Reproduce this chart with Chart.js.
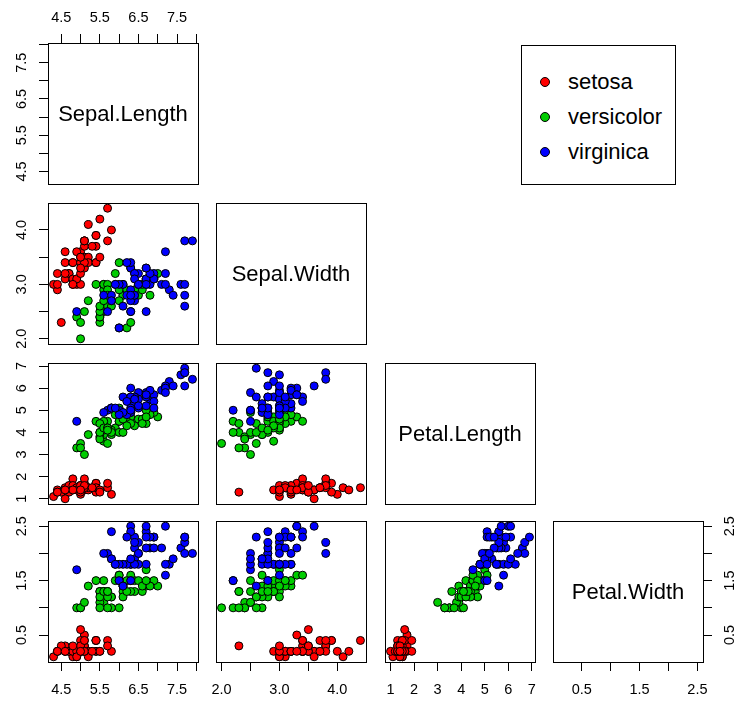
<!DOCTYPE html>
<html>
<head>
<meta charset="utf-8">
<script src="https://cdn.jsdelivr.net/npm/chart.js@4/dist/chart.umd.min.js"></script>
<style>
html,body{margin:0;padding:0;background:#fff;width:740px;height:702px;overflow:hidden;}
#root{position:relative;width:740px;height:702px;overflow:hidden;}
canvas{position:absolute;}
.diag{position:absolute;display:flex;align-items:center;justify-content:center;font-family:"Liberation Sans",Arial,Helvetica,sans-serif;font-size:22px;color:#000;pointer-events:none;}
#legend{position:absolute;border:1px solid #000;box-sizing:border-box;font-family:"Liberation Sans",Arial,Helvetica,sans-serif;font-size:22px;color:#000;background:#fff;}
.litem{position:absolute;white-space:nowrap;line-height:1;}
.ldot{position:absolute;border-radius:50%;border:1px solid #000;box-sizing:border-box;}
</style>
</head>
<body>
<div id="root"></div>
<script>
// ---------------- data (iris) ----------------
const varNames = ['Sepal.Length', 'Sepal.Width', 'Petal.Length', 'Petal.Width'];
const speciesNames = ['setosa', 'versicolor', 'virginica'];

const setosaSepalLength = [5.1,4.9,4.7,4.6,5.0,5.4,4.6,5.0,4.4,4.9,5.4,4.8,4.8,4.3,5.8,5.7,5.4,5.1,5.7,5.1,5.4,5.1,4.6,5.1,4.8,5.0,5.0,5.2,5.2,4.7,4.8,5.4,5.2,5.5,4.9,5.0,5.5,4.9,4.4,5.1,5.0,4.5,4.4,5.0,5.1,4.8,5.1,4.6,5.3,5.0];
const setosaSepalWidth  = [3.5,3.0,3.2,3.1,3.6,3.9,3.4,3.4,2.9,3.1,3.7,3.4,3.0,3.0,4.0,4.4,3.9,3.5,3.8,3.8,3.4,3.7,3.6,3.3,3.4,3.0,3.4,3.5,3.4,3.2,3.1,3.4,4.1,4.2,3.1,3.2,3.5,3.6,3.0,3.4,3.5,2.3,3.2,3.5,3.8,3.0,3.8,3.2,3.7,3.3];
const setosaPetalLength = [1.4,1.4,1.3,1.5,1.4,1.7,1.4,1.5,1.4,1.5,1.5,1.6,1.4,1.1,1.2,1.5,1.3,1.4,1.7,1.5,1.7,1.5,1.0,1.7,1.9,1.6,1.6,1.5,1.4,1.6,1.6,1.5,1.5,1.4,1.5,1.2,1.3,1.4,1.3,1.5,1.3,1.3,1.3,1.6,1.9,1.4,1.6,1.4,1.5,1.4];
const setosaPetalWidth  = [0.2,0.2,0.2,0.2,0.2,0.4,0.3,0.2,0.2,0.1,0.2,0.2,0.1,0.1,0.2,0.4,0.4,0.3,0.3,0.3,0.2,0.4,0.2,0.5,0.2,0.2,0.4,0.2,0.2,0.2,0.2,0.4,0.1,0.2,0.2,0.2,0.2,0.1,0.2,0.2,0.3,0.3,0.2,0.6,0.4,0.3,0.2,0.2,0.2,0.2];

const versicolorSepalLength = [7.0,6.4,6.9,5.5,6.5,5.7,6.3,4.9,6.6,5.2,5.0,5.9,6.0,6.1,5.6,6.7,5.6,5.8,6.2,5.6,5.9,6.1,6.3,6.1,6.4,6.6,6.8,6.7,6.0,5.7,5.5,5.5,5.8,6.0,5.4,6.0,6.7,6.3,5.6,5.5,5.5,6.1,5.8,5.0,5.6,5.7,5.7,6.2,5.1,5.7];
const versicolorSepalWidth  = [3.2,3.2,3.1,2.3,2.8,2.8,3.3,2.4,2.9,2.7,2.0,3.0,2.2,2.9,2.9,3.1,3.0,2.7,2.2,2.5,3.2,2.8,2.5,2.8,2.9,3.0,2.8,3.0,2.9,2.6,2.4,2.4,2.7,2.7,3.0,3.4,3.1,2.3,3.0,2.5,2.6,3.0,2.6,2.3,2.7,3.0,2.9,2.9,2.5,2.8];
const versicolorPetalLength = [4.7,4.5,4.9,4.0,4.6,4.5,4.7,3.3,4.6,3.9,3.5,4.2,4.0,4.7,3.6,4.4,4.5,4.1,4.5,3.9,4.8,4.0,4.9,4.7,4.3,4.4,4.8,5.0,4.5,3.5,3.8,3.7,3.9,5.1,4.5,4.5,4.7,4.4,4.1,4.0,4.4,4.6,4.0,3.3,4.2,4.2,4.2,4.3,3.0,4.1];
const versicolorPetalWidth  = [1.4,1.5,1.5,1.3,1.5,1.3,1.6,1.0,1.3,1.4,1.0,1.5,1.0,1.4,1.3,1.4,1.5,1.0,1.5,1.1,1.8,1.3,1.5,1.2,1.3,1.4,1.4,1.7,1.5,1.0,1.1,1.0,1.2,1.6,1.5,1.6,1.5,1.3,1.3,1.3,1.2,1.4,1.2,1.0,1.3,1.2,1.3,1.3,1.1,1.3];

const virginicaSepalLength = [6.3,5.8,7.1,6.3,6.5,7.6,4.9,7.3,6.7,7.2,6.5,6.4,6.8,5.7,5.8,6.4,6.5,7.7,7.7,6.0,6.9,5.6,7.7,6.3,6.7,7.2,6.2,6.1,6.4,7.2,7.4,7.9,6.4,6.3,6.1,7.7,6.3,6.4,6.0,6.9,6.7,6.9,5.8,6.8,6.7,6.7,6.3,6.5,6.2,5.9];
const virginicaSepalWidth  = [3.3,2.7,3.0,2.9,3.0,3.0,2.5,2.9,2.5,3.6,3.2,2.7,3.0,2.5,2.8,3.2,3.0,3.8,2.6,2.2,3.2,2.8,2.8,2.7,3.3,3.2,2.8,3.0,2.8,3.0,2.8,3.8,2.8,2.8,2.6,3.0,3.4,3.1,3.0,3.1,3.1,3.1,2.7,3.2,3.3,3.0,2.5,3.0,3.4,3.0];
const virginicaPetalLength = [6.0,5.1,5.9,5.6,5.8,6.6,4.5,6.3,5.8,6.1,5.1,5.3,5.5,5.0,5.1,5.3,5.5,6.7,6.9,5.0,5.7,4.9,6.7,4.9,5.7,6.0,4.8,4.9,5.6,5.8,6.1,6.4,5.6,5.1,5.6,6.1,5.6,5.5,4.8,5.4,5.6,5.1,5.1,5.9,5.7,5.2,5.0,5.2,5.4,5.1];
const virginicaPetalWidth  = [2.5,1.9,2.1,1.8,2.2,2.1,1.7,1.8,1.8,2.5,2.0,1.9,2.1,2.0,2.4,2.3,1.8,2.2,2.3,1.5,2.3,2.0,2.0,1.8,2.1,1.8,1.8,1.8,2.1,1.6,1.9,2.0,2.2,1.5,1.4,2.3,2.4,1.8,1.8,2.1,2.4,2.3,1.9,2.3,2.5,2.3,1.9,2.0,2.3,1.8];

// tick values and tick labels per variable
const sepalLengthTicks = [4.5, 5.0, 5.5, 6.0, 6.5, 7.0, 7.5, 8.0];
const sepalLengthTickLabels = ['4.5', '', '5.5', '', '6.5', '', '7.5', ''];
const sepalWidthTicks = [2.0, 2.5, 3.0, 3.5, 4.0];
const sepalWidthTickLabels = ['2.0', '', '3.0', '', '4.0'];
const petalLengthTicks = [1, 2, 3, 4, 5, 6, 7];
const petalLengthTickLabels = ['1', '2', '3', '4', '5', '6', '7'];
const petalWidthTicks = [0.5, 1.0, 1.5, 2.0, 2.5];
const petalWidthTickLabels = ['0.5', '', '1.5', '', '2.5'];

// ---------------- assembly ----------------
const speciesData = [
  [setosaSepalLength, setosaSepalWidth, setosaPetalLength, setosaPetalWidth],
  [versicolorSepalLength, versicolorSepalWidth, versicolorPetalLength, versicolorPetalWidth],
  [virginicaSepalLength, virginicaSepalWidth, virginicaPetalLength, virginicaPetalWidth]
];
const tickValues = [sepalLengthTicks, sepalWidthTicks, petalLengthTicks, petalWidthTicks];
const tickLabels = [sepalLengthTickLabels, sepalWidthTickLabels, petalLengthTickLabels, petalWidthTickLabels];

// axis ranges as in R: data range extended by 4% on each side
const ranges = varNames.map((_, v) => {
  const all = [].concat(speciesData[0][v], speciesData[1][v], speciesData[2][v]);
  const lo = Math.min(...all), hi = Math.max(...all);
  const d = (hi - lo) * 0.04;
  return [lo - d, hi + d];
});

// ---------------- styling / layout ----------------
const colors = ['#FF0000', '#00CD00', '#0000FF'];
const fontFamily = '"Liberation Sans", Arial, Helvetica, sans-serif';
const tickFontSize = 14.5;
const tickLen = 9;
const M = 42;
const colLeft = [48, 216, 385, 553];
const rowTop = [43, 203, 363, 521];
const PWID = 150, PHGT = 141;

Chart.defaults.font.family = fontFamily;
Chart.defaults.color = '#000';

const mctx = document.createElement('canvas').getContext('2d');
function widestLabel(labels) {
  mctx.font = tickFontSize + 'px ' + fontFamily;
  return Math.max(...labels.map(l => mctx.measureText(l).width));
}

function scaleConf(v, axis, pos, show) {
  const vert = (pos === 'left' || pos === 'right');
  const tv = tickValues[v], tl = tickLabels[v];
  const w = widestLabel(tl);
  const lh = tickFontSize * 1.2 / 2;
  let pad;
  if (pos === 'left') pad = 26.5 - tickLen - w / 2;
  else if (pos === 'right') pad = 26.7 - tickLen - w / 2;
  else if (pos === 'top') pad = 25.2 - tickLen - lh;
  else pad = 28 - tickLen - lh;
  return {
    type: 'linear', axis: axis, position: pos,
    min: ranges[v][0], max: ranges[v][1], bounds: 'data',
    afterBuildTicks: s => { s.ticks = tv.map(value => ({ value })); },
    afterFit: s => { if (vert) s.width = M; else s.height = M; },
    grid: { display: show, drawOnChartArea: false, drawTicks: true, tickLength: tickLen, color: '#000', lineWidth: 1 },
    border: { display: true, color: '#000', width: 1 },
    ticks: {
      display: show, autoSkip: false, color: '#000',
      font: { family: fontFamily, size: tickFontSize },
      padding: pad,
      minRotation: vert ? 90 : 0, maxRotation: vert ? 90 : 0,
      crossAlign: vert ? 'center' : 'near',
      callback: (val, i) => tl[i]
    }
  };
}

const root = document.getElementById('root');

for (let r = 0; r < 4; r++) {
  for (let c = 0; c <= r; c++) {
    const cv = document.createElement('canvas');
    const cw = PWID + 2 * M, ch = PHGT + 2 * M;
    cv.width = cw; cv.height = ch;
    cv.style.width = cw + 'px'; cv.style.height = ch + 'px';
    cv.style.left = (colLeft[c] - M) + 'px';
    cv.style.top = (rowTop[r] - M) + 'px';
    root.appendChild(cv);

    const datasets = [];
    if (r !== c) {
      speciesData.forEach((sp, k) => {
        datasets.push({
          label: speciesNames[k],
          data: sp[c].map((xv, i) => ({ x: xv, y: sp[r][i] })),
          backgroundColor: colors[k],
          borderColor: '#000',
          borderWidth: 1,
          pointRadius: 4,
          pointHoverRadius: 4,
          order: 3 - k,
          clip: false,
          xAxisID: 'x', yAxisID: 'y'
        });
      });
    } else {
      datasets.push({ data: [], xAxisID: 'x', yAxisID: 'y' });
    }

    new Chart(cv, {
      type: 'scatter',
      data: { datasets },
      options: {
        responsive: false,
        animation: false,
        devicePixelRatio: 1,
        events: [],
        layout: { padding: 0 },
        plugins: { legend: { display: false }, tooltip: { enabled: false } },
        scales: {
          x: scaleConf(c, 'x', 'bottom', r === 3),
          x2: scaleConf(c, 'x', 'top', r === 0 && c === 0),
          y: scaleConf(r, 'y', 'left', c === 0),
          y2: scaleConf(r, 'y', 'right', r === 3 && c === 3)
        }
      }
    });

    if (r === c) {
      const d = document.createElement('div');
      d.className = 'diag';
      d.style.left = colLeft[c] + 'px';
      d.style.top = rowTop[r] + 'px';
      d.style.width = PWID + 'px';
      d.style.height = PHGT + 'px';
      d.textContent = varNames[r];
      root.appendChild(d);
    }
  }
}

// legend
const lg = document.createElement('div');
lg.id = 'legend';
lg.style.left = '521px'; lg.style.top = '45px';
lg.style.width = '155px'; lg.style.height = '140px';
speciesNames.forEach((name, k) => {
  const cy = 35.5 + k * 35;
  const dot = document.createElement('div');
  dot.className = 'ldot';
  dot.style.width = '10px'; dot.style.height = '10px';
  dot.style.left = (23 - 5) + 'px';
  dot.style.top = (cy - 5) + 'px';
  dot.style.background = colors[k];
  lg.appendChild(dot);
  const t = document.createElement('div');
  t.className = 'litem';
  t.style.left = '46px';
  t.style.top = (cy - 12) + 'px';
  t.style.height = '24px';
  t.style.lineHeight = '24px';
  t.textContent = name;
  lg.appendChild(t);
});
root.appendChild(lg);
</script>
</body>
</html>
